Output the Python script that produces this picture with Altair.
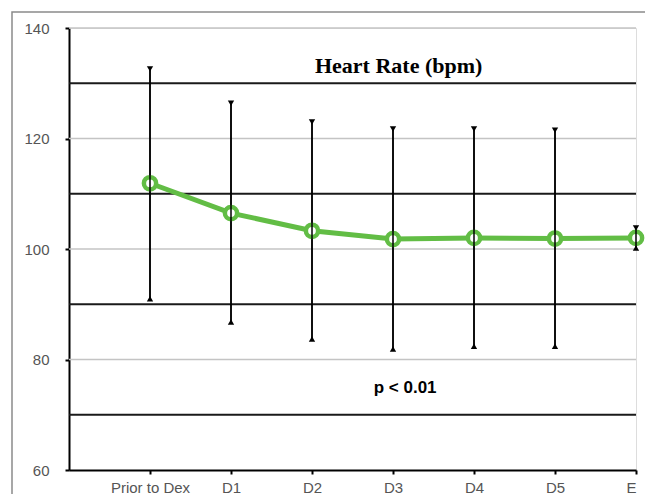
import altair as alt
import pandas as pd

categories = ["Prior to Dex", "D1", "D2", "D3", "D4", "D5", "E"]
positions = [1, 2, 3, 4, 5, 6, 7]
mean_hr = [111.9, 106.5, 103.3, 101.8, 102.0, 101.9, 102.0]
upper_hr = [132.6, 126.4, 123.0, 121.7, 121.7, 121.5, 103.8]
lower_hr = [91.0, 86.8, 83.7, 81.9, 82.4, 82.4, 100.2]

grey_grid = [80, 100, 120, 140]
black_grid = [70, 90, 110, 130]

title_text = ["Heart Rate (bpm)"]
title_x = [4.07]
title_y = [133.1]
p_text = ["p < 0.01"]
p_x = [4.15]
p_y = [74.8]

df = pd.DataFrame({"cat": categories, "pos": positions, "hr": mean_hr,
                   "hi": upper_hr, "lo": lower_hr})
label_expr = "datum.value==1?'Prior to Dex':datum.value==2?'D1':datum.value==3?'D2':datum.value==4?'D3':datum.value==5?'D4':datum.value==6?'D5':datum.value==7?'E':''"

xs = alt.Scale(domain=[0, 7], nice=False, zero=False)
ys = alt.Scale(domain=[60, 140], nice=False, zero=False)

GREEN = "#62bd45"

base = alt.Chart(df)

grey_rules = alt.Chart(pd.DataFrame({"g": grey_grid})).mark_rule(
    color="#c4c4c4", strokeWidth=1.5).encode(
    y=alt.Y("g:Q", scale=ys,
            axis=alt.Axis(values=[60, 80, 100, 120, 140], title=None, grid=False,
                          domainColor="black", domainWidth=2, tickColor="black",
                          tickWidth=2, tickSize=4, labelPadding=16,
                          labelFont="Liberation Sans", labelFontSize=15,
                          labelColor="#555555")))

black_rules = alt.Chart(pd.DataFrame({"g": black_grid})).mark_rule(
    color="#1a1a1a", strokeWidth=2).encode(y=alt.Y("g:Q", scale=ys))

err = base.mark_rule(color="black", strokeWidth=1.5).encode(
    x=alt.X("pos:Q", scale=xs,
            axis=alt.Axis(values=positions, labelExpr=label_expr, title=None,
                          grid=False, domainColor="black", domainWidth=2,
                          tickColor="black", tickWidth=2, tickSize=4,
                          labelPadding=6, labelFont="Liberation Sans",
                          labelFontSize=15, labelColor="#555555")),
    y=alt.Y("lo:Q", scale=ys), y2="hi:Q")

cap_top = base.mark_point(shape="triangle-down", filled=True, color="black",
                          size=40, opacity=1).encode(
    x=alt.X("pos:Q", scale=xs), y=alt.Y("hi:Q", scale=ys))
cap_bot = base.mark_point(shape="triangle-up", filled=True, color="black",
                          size=40, opacity=1).encode(
    x=alt.X("pos:Q", scale=xs), y=alt.Y("lo:Q", scale=ys))

line = base.mark_line(color=GREEN, strokeWidth=5).encode(
    x=alt.X("pos:Q", scale=xs), y=alt.Y("hr:Q", scale=ys))
pts = base.mark_point(shape="circle", filled=True, fill="white", fillOpacity=1,
                      stroke=GREEN, strokeWidth=4.5, size=150, opacity=1).encode(
    x=alt.X("pos:Q", scale=xs), y=alt.Y("hr:Q", scale=ys))
err_over = base.mark_rule(color="black", strokeWidth=1.5).encode(
    x=alt.X("pos:Q", scale=xs), y=alt.Y("lo:Q", scale=ys), y2="hi:Q")

title = alt.Chart(pd.DataFrame({"t": title_text, "x": title_x, "y": title_y})).mark_text(
    font="Liberation Serif", fontSize=22, fontWeight="bold", color="black").encode(
    x=alt.X("x:Q", scale=xs), y=alt.Y("y:Q", scale=ys), text="t:N")

ptxt = alt.Chart(pd.DataFrame({"t": p_text, "x": p_x, "y": p_y})).mark_text(
    font="Liberation Sans", fontSize=17, fontWeight="bold", color="black").encode(
    x=alt.X("x:Q", scale=xs), y=alt.Y("y:Q", scale=ys), text="t:N")

frame = alt.Chart(pd.DataFrame({"a": [0]})).mark_rect(
    fill=None, stroke="#8a8a8a", strokeWidth=1.5).encode(
    x=alt.value(-57), x2=alt.value(700), y=alt.value(-16), y2=alt.value(520))

chart = alt.layer(frame, grey_rules, black_rules, err, cap_top, cap_bot, line, pts,
                  err_over, title, ptxt).properties(
    width=567, height=442,
    autosize=alt.AutoSizeParams(type="none"),
    padding={"left": 61, "top": 20, "right": 9, "bottom": 24},
).configure_view(stroke=None).configure(background="white")

chart.save("out.html", embed_options={"renderer": "svg", "actions": False})
